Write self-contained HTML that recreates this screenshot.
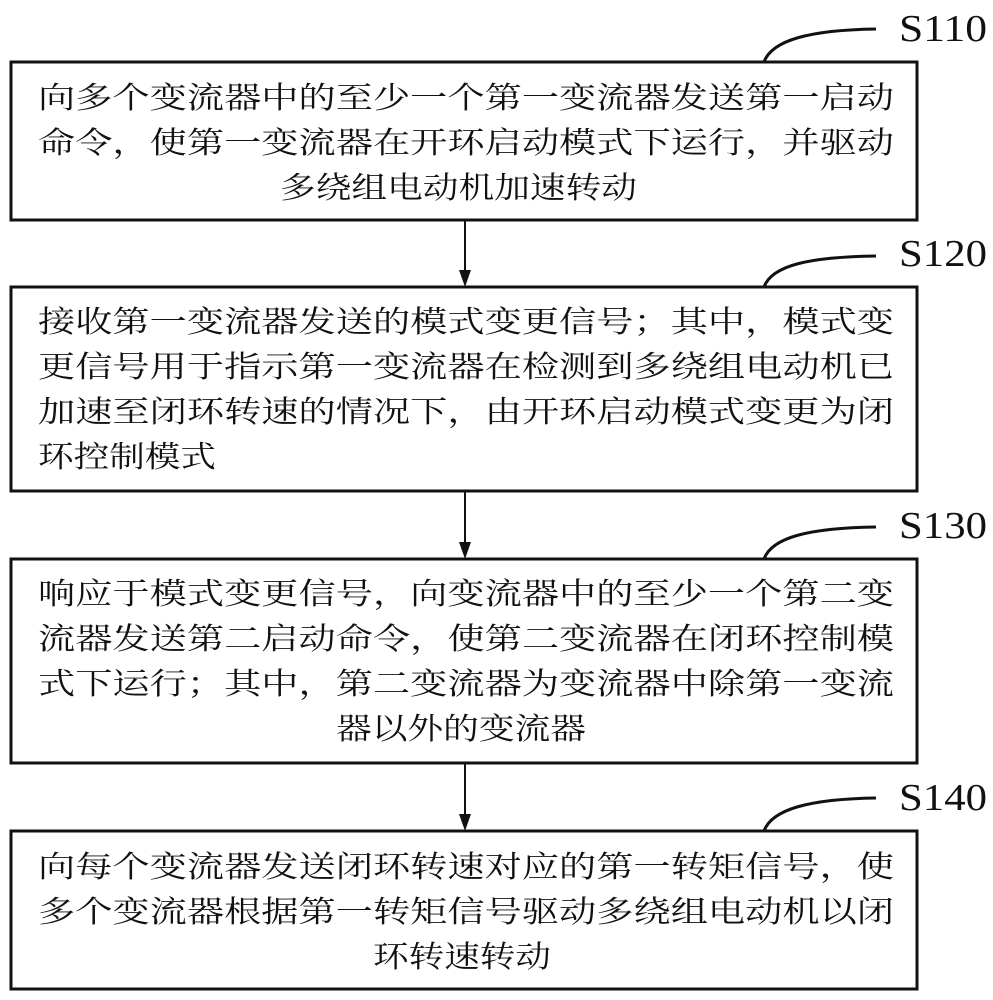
<!DOCTYPE html>
<html><head><meta charset="utf-8"><style>
html,body{margin:0;padding:0;background:#fff;}
svg{display:block;}
.t{font-family:"Liberation Serif","Noto Serif CJK SC","Noto Sans CJK SC",serif;font-size:30px;fill:#111;}
.l{font-family:"Liberation Serif",serif;font-size:38px;fill:#111;}
</style></head><body>
<svg width="993" height="1000" viewBox="0 0 993 1000" xmlns="http://www.w3.org/2000/svg">
<g fill="none" stroke="#111" stroke-width="3">
<rect x="11" y="62" width="906" height="158"/>
<rect x="11" y="287" width="906" height="204"/>
<rect x="11" y="559" width="906" height="204"/>
<rect x="11" y="831" width="906" height="158"/>
</g>
<g stroke="#111" stroke-width="2">
<line x1="465" y1="220" x2="465" y2="272"/>
<line x1="465" y1="491" x2="465" y2="544"/>
<line x1="465" y1="763" x2="465" y2="816"/>
</g>
<g fill="#111">
<polygon points="459,270 471,270 465,287"/>
<polygon points="459,542 471,542 465,559"/>
<polygon points="459,814 471,814 465,831"/>
</g>
<g fill="none" stroke="#111" stroke-width="3">
<path d="M764,62 C772,40 810,30 876,29"/>
<path d="M764,287 C772,265 810,257 876,256"/>
<path d="M764,559 C772,537 810,528 876,527"/>
<path d="M764,831 C772,809 810,799 876,798"/>
</g>
<text class="l" x="899" y="41" textLength="88" lengthAdjust="spacingAndGlyphs">S110</text>
<text class="l" x="899" y="266" textLength="88" lengthAdjust="spacingAndGlyphs">S120</text>
<text class="l" x="899" y="538" textLength="88" lengthAdjust="spacingAndGlyphs">S130</text>
<text class="l" x="899" y="810" textLength="88" lengthAdjust="spacingAndGlyphs">S140</text>

<text class="t" x="38" y="108" textLength="856" lengthAdjust="spacingAndGlyphs">向多个变流器中的至少一个第一变流器发送第一启动</text>
<text class="t" x="38" y="153" textLength="856" lengthAdjust="spacingAndGlyphs">命令，使第一变流器在开环启动模式下运行，并驱动</text>
<text class="t" x="280" y="198" textLength="357" lengthAdjust="spacingAndGlyphs">多绕组电动机加速转动</text>

<text class="t" x="38" y="332" textLength="856" lengthAdjust="spacingAndGlyphs">接收第一变流器发送的模式变更信号；其中，模式变</text>
<text class="t" x="38" y="377" textLength="856" lengthAdjust="spacingAndGlyphs">更信号用于指示第一变流器在检测到多绕组电动机已</text>
<text class="t" x="38" y="422" textLength="856" lengthAdjust="spacingAndGlyphs">加速至闭环转速的情况下，由开环启动模式变更为闭</text>
<text class="t" x="38" y="467" textLength="178" lengthAdjust="spacingAndGlyphs">环控制模式</text>

<text class="t" x="38" y="604" textLength="856" lengthAdjust="spacingAndGlyphs">响应于模式变更信号，向变流器中的至少一个第二变</text>
<text class="t" x="38" y="649" textLength="856" lengthAdjust="spacingAndGlyphs">流器发送第二启动命令，使第二变流器在闭环控制模</text>
<text class="t" x="38" y="694" textLength="856" lengthAdjust="spacingAndGlyphs">式下运行；其中，第二变流器为变流器中除第一变流</text>
<text class="t" x="336" y="739" textLength="250" lengthAdjust="spacingAndGlyphs">器以外的变流器</text>

<text class="t" x="38" y="877" textLength="856" lengthAdjust="spacingAndGlyphs">向每个变流器发送闭环转速对应的第一转矩信号，使</text>
<text class="t" x="38" y="922" textLength="856" lengthAdjust="spacingAndGlyphs">多个变流器根据第一转矩信号驱动多绕组电动机以闭</text>
<text class="t" x="373" y="967" textLength="178" lengthAdjust="spacingAndGlyphs">环转速转动</text>
</svg>
</body></html>
